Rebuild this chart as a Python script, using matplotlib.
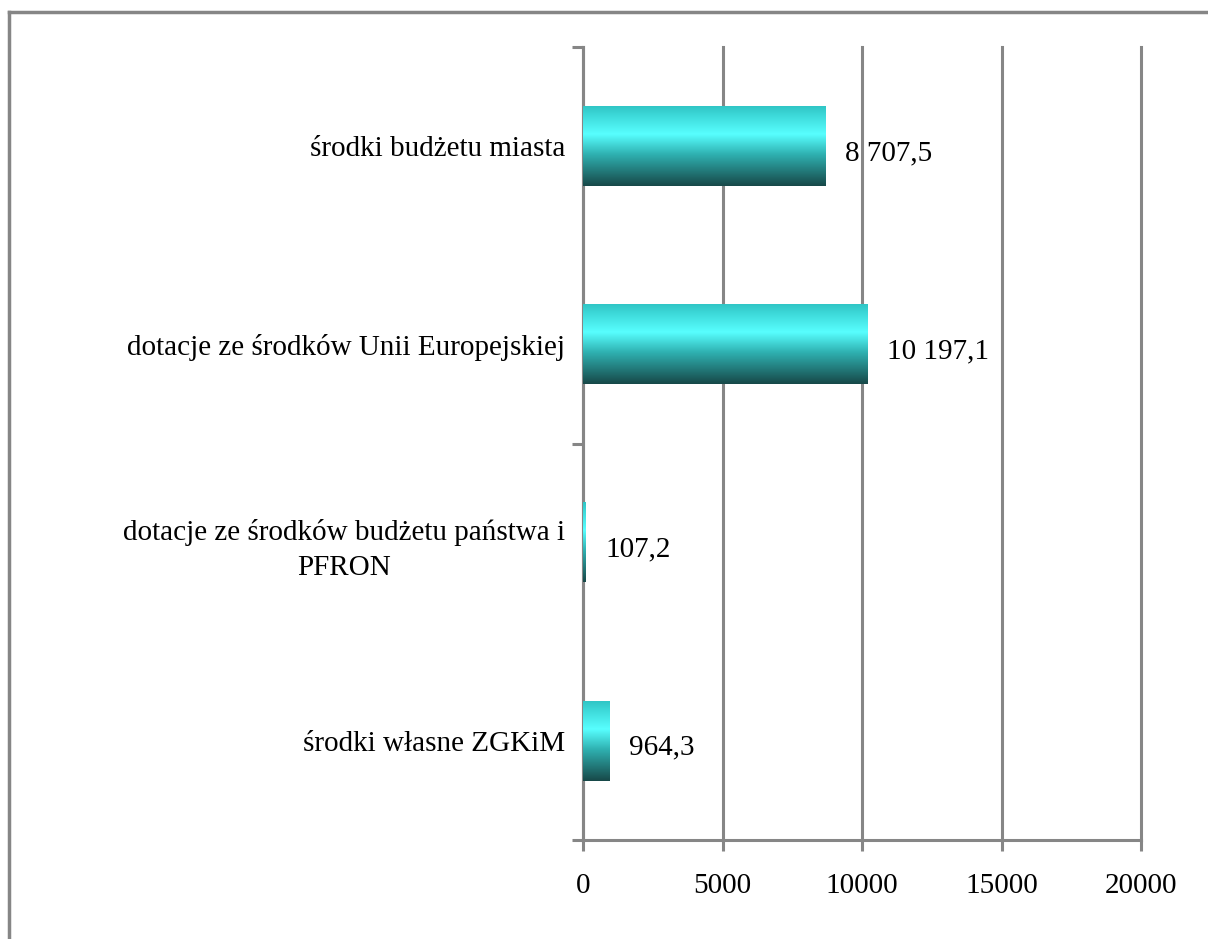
import matplotlib.pyplot as plt
import numpy as np
from matplotlib.colors import LinearSegmentedColormap
from matplotlib.lines import Line2D

categories = ["środki budżetu miasta",
              "dotacje ze środków Unii Europejskiej",
              "dotacje ze środków budżetu państwa i\nPFRON",
              "środki własne ZGKiM"]
values = [8707.5, 10197.1, 107.2, 964.3]
x_ticks = [0, 5000, 10000, 15000, 20000]

plt.rcParams['font.family'] = ['Liberation Serif', 'DejaVu Serif']
grey = "#868686"

fig = plt.figure(figsize=(12.08, 9.39), dpi=100)
ax = fig.add_axes([583 / 1208, 1 - 840 / 939, 558 / 1208, 793 / 939])

# vertical gradient used to fill each bar (top -> bottom)
bar_cmap = LinearSegmentedColormap.from_list(
    "bar", [(0.0, "#30c6c6"), (0.35, "#58ffff"), (0.6, "#2fb2b2"), (1.0, "#174848")])
grad = np.linspace(0, 1, 256).reshape(-1, 1)

bar_h = 0.4
for i, v in enumerate(values):
    ax.imshow(grad, cmap=bar_cmap, aspect="auto", zorder=3,
              extent=[0, v, i + bar_h / 2, i - bar_h / 2], interpolation="bicubic")
    label = f"{v:,.1f}".replace(",", " ").replace(".", ",")
    ax.annotate(label, (v, i), xytext=(14, -5), textcoords="offset points",
                ha="left", va="center", fontsize=21)

ax.set_xlim(0, 20000)
ax.set_ylim(len(values) - 0.5, -0.5)
ax.set_xticks(x_ticks)
ax.set_xticklabels([str(t) for t in x_ticks], fontsize=21)

# tick marks every two categories, labels at category centres
ax.set_yticks([-0.5, 1.5, 3.5])
ax.set_yticklabels([])
ax.set_yticks(range(len(categories)), minor=True)
ax.set_yticklabels(categories, minor=True, fontsize=21,
                   multialignment="center", linespacing=1.45)
ax.tick_params(axis="y", which="minor", length=0, pad=13)
ax.tick_params(axis="y", which="major", length=8, width=2.2, color=grey, direction="out")
ax.tick_params(axis="x", length=8, width=2.2, color=grey, direction="out", pad=16)
for lbl in ax.get_yticklabels(minor=True):
    lbl.set_y(lbl.get_position()[1])

for side in ["top", "right"]:
    ax.spines[side].set_visible(False)
for side in ["left", "bottom"]:
    ax.spines[side].set_color(grey)
    ax.spines[side].set_linewidth(2.2)

ax.grid(axis="x", color=grey, linewidth=2.2, zorder=0)
ax.set_axisbelow(True)
for gl in ax.get_xgridlines():
    gl.set_clip_on(False)

# chart frame (left and top edges visible)
fig.add_artist(Line2D([9 / 1208, 9 / 1208], [0, 1 - 12 / 939], color=grey, linewidth=2.5))
fig.add_artist(Line2D([9 / 1208, 1], [1 - 12 / 939, 1 - 12 / 939], color=grey, linewidth=2.5))

plt.savefig("out.png", dpi=100)
